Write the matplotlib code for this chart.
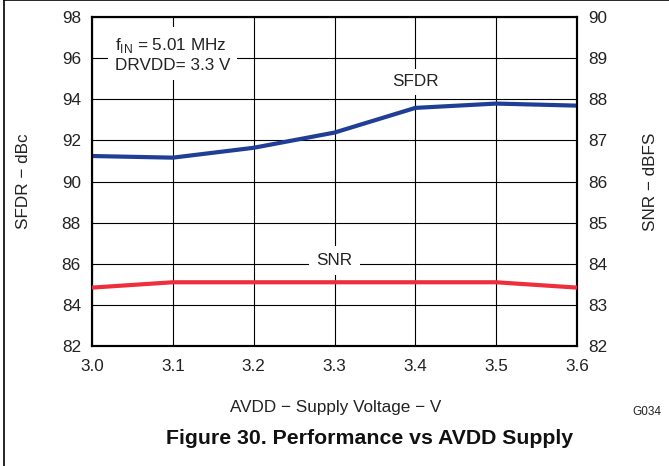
import matplotlib
matplotlib.use("Agg")
import matplotlib.pyplot as plt
from matplotlib.lines import Line2D

plt.rcParams['font.family'] = ['Liberation Sans', 'DejaVu Sans']

avdd = [3.0, 3.1, 3.2, 3.3, 3.4, 3.5, 3.6]
sfdr_dbc = [91.24, 91.16, 91.64, 92.38, 93.58, 93.79, 93.69]
snr_dbfs = [83.42, 83.55, 83.55, 83.55, 83.55, 83.55, 83.42]
x_ticks = [3.0, 3.1, 3.2, 3.3, 3.4, 3.5, 3.6]
left_ticks = [82, 84, 86, 88, 90, 92, 94, 96, 98]
right_ticks = [82, 83, 84, 85, 86, 87, 88, 89, 90]

FS = 12.3
fig = plt.figure(figsize=(6.69, 4.66), dpi=100)
ax = fig.add_axes([0.1375, 0.2575, 0.725, 0.706])
ax2 = ax.twinx()

ax.set_xlim(3.0, 3.6)
ax.set_ylim(82, 98)
ax2.set_ylim(82, 90)
ax.set_xticks(x_ticks)
ax.set_xticklabels([f"{v:.1f}" for v in x_ticks])
ax.set_yticks(left_ticks)
ax2.set_yticks(right_ticks)
ax.grid(True, color='black', linewidth=0.8)
ax.set_axisbelow(True)
for a in (ax, ax2):
    a.tick_params(length=0, labelsize=FS, colors='#222222')
    for s in a.spines.values():
        s.set_linewidth(1.5)
ax.tick_params(axis='x', pad=9)
ax.tick_params(axis='y', pad=8)
ax2.tick_params(axis='y', pad=8)

ax.plot(avdd, sfdr_dbc, color='#213E96', linewidth=3, solid_capstyle='butt', zorder=5)
ax2.plot(avdd, snr_dbfs, color='#EE2F3B', linewidth=3, solid_capstyle='butt', zorder=5)

ax.text(3.028, 96.2, r"f$_{\mathregular{IN}}$ = 5.01 MHz" + "\nDRVDD= 3.3 V", fontsize=FS,
        va='center', ha='left', bbox=dict(facecolor='white', edgecolor='none', pad=5),
        linespacing=1.25, color='#222222', zorder=6)
ax.text(3.4, 94.85, "SFDR", fontsize=FS, ha='center', va='center',
        bbox=dict(facecolor='white', edgecolor='none', pad=4), color='#222222', zorder=6)
ax.text(3.3, 86.15, "SNR", fontsize=FS, ha='center', va='center',
        bbox=dict(facecolor='white', edgecolor='none', pad=5), color='#222222', zorder=6)

ax.set_ylabel("SFDR − dBc", fontsize=FS, color='#222222', labelpad=22)
ax2.set_ylabel("SNR − dBFS", fontsize=FS, color='#222222', labelpad=26)
fig.text(0.502, 0.125, "AVDD − Supply Voltage − V", fontsize=FS, ha='center', va='center', color='#222222')
fig.text(0.946, 0.115, "G034", fontsize=8.5, ha='left', va='center', color='#222222')
fig.text(0.553, 0.060, "Figure 30. Performance vs AVDD Supply", fontsize=15.3, fontweight='bold',
         ha='center', va='center', color='#111111')

fig.add_artist(Line2D([0.006, 0.006], [0, 1], transform=fig.transFigure, color='black', linewidth=1.2))
fig.add_artist(Line2D([0.006, 1], [0.999, 0.999], transform=fig.transFigure, color='black', linewidth=1.2))

fig.savefig("out.png", dpi=100)
